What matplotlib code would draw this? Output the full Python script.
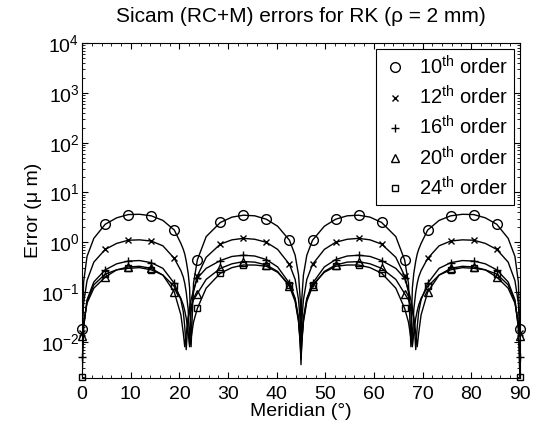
import numpy as np
import matplotlib
matplotlib.use("Agg")
import matplotlib.pyplot as plt
from matplotlib.ticker import MultipleLocator, LogLocator, NullFormatter, FixedLocator

plt.rcParams['font.family'] = ['Liberation Sans', 'DejaVu Sans']
plt.rcParams['mathtext.fontset'] = 'custom'
plt.rcParams['mathtext.rm'] = 'Liberation Sans'
plt.rcParams['mathtext.it'] = 'Liberation Sans'
plt.rcParams['mathtext.bf'] = 'Liberation Sans'
plt.rcParams['axes.unicode_minus'] = False

# meridian grid from 0 to 45 deg (chart is symmetric about 45)
meridian_half = [0, 0.3, 1.0, 2.4, 4.74, 7.1, 9.47, 11.8, 14.21, 16.6, 18.95,
                 20.3, 20.8, 21.1, 21.4, 21.8, 22.1, 22.4, 22.9, 23.68, 25.5,
                 28.42, 30.8, 33.16, 35.5, 37.89, 40.2, 42.63, 43.8, 44.5, 44.85, 45]

# marker meridians
marker_half = [0, 4.74, 9.47, 14.21, 18.95, 23.68, 28.42, 33.16, 37.89, 42.63]

err_10 = [0.018, 0.16, 0.52, 1.2, 2.3, 3.1, 3.6, 3.65, 3.4, 2.75, 1.76,
          0.95, 0.72, 0.58, 0.42, 0.24, 0.12, 0.008, 0.15, 0.44, 1.3,
          2.5, 3.2, 3.5, 3.4, 2.9, 2.1, 1.1, 0.55, 0.22, 0.07, 0.006]
err_12 = [0.015, 0.06, 0.17, 0.4, 0.72, 0.95, 1.1, 1.12, 1.06, 0.85, 0.475,
          0.27, 0.2, 0.15, 0.1, 0.045, 0.009, 0.04, 0.1, 0.21, 0.5,
          0.92, 1.12, 1.2, 1.15, 1.0, 0.72, 0.36, 0.18, 0.07, 0.025, 0.005]
err_16 = [0.005, 0.02, 0.07, 0.16, 0.28, 0.37, 0.42, 0.43, 0.39, 0.3, 0.15,
          0.07, 0.04, 0.02, 0.007, 0.03, 0.05, 0.07, 0.11, 0.19, 0.3,
          0.43, 0.52, 0.55, 0.53, 0.45, 0.32, 0.15, 0.075, 0.03, 0.01, 0.0035]
err_20 = [0.013, 0.025, 0.06, 0.12, 0.2, 0.28, 0.32, 0.33, 0.3, 0.22, 0.1,
          0.035, 0.015, 0.008, 0.015, 0.03, 0.042, 0.052, 0.07, 0.093, 0.18,
          0.3, 0.37, 0.41, 0.4, 0.35, 0.26, 0.13, 0.065, 0.025, 0.009, 0.0045]
err_24 = [0.002, 0.02, 0.065, 0.14, 0.23, 0.28, 0.3, 0.31, 0.28, 0.22, 0.13,
          0.075, 0.055, 0.042, 0.03, 0.015, 0.008, 0.012, 0.025, 0.047, 0.12,
          0.24, 0.31, 0.35, 0.35, 0.33, 0.25, 0.14, 0.07, 0.028, 0.01, 0.005]

labels = ["10$^{th}$ order", "12$^{th}$ order", "16$^{th}$ order",
          "20$^{th}$ order", "24$^{th}$ order"]
markers = ['o', 'x', '+', '^', 's']
msizes = [7, 5, 6, 6, 5]
ytick_vals = [1e-2, 1e-1, 1e0, 1e1, 1e2, 1e3, 1e4]


def mirror(vals):
    v = np.array(vals)
    return np.concatenate([v, v[-2::-1]])


g = np.array(meridian_half)
x_full = np.concatenate([g, 90 - g[-2::-1]])
m = np.array(marker_half)
mx = np.concatenate([m, 90 - m[::-1]])
idx = [int(np.argmin(np.abs(x_full - v))) for v in mx]

fig = plt.figure(figsize=(5.37, 4.26), dpi=100)
ax = fig.add_axes([0.153, 0.113, 0.815, 0.786])

series = [err_10, err_12, err_16, err_20, err_24]
for s, lab, mk, ms in zip(series, labels, markers, msizes):
    y = mirror(s)
    ax.plot(x_full, y, color='black', lw=1.0)
    ax.plot(x_full[idx], y[idx], linestyle='none', marker=mk, ms=ms,
            mfc='none', mec='black', mew=1.0, label=lab, clip_on=False)

ax.set_yscale('log')
ax.set_xlim(0, 90)
ax.set_ylim(1.9e-3, 1e4)
ax.xaxis.set_major_locator(MultipleLocator(10))
ax.xaxis.set_minor_locator(MultipleLocator(2))
ax.yaxis.set_major_locator(FixedLocator(ytick_vals))
ax.yaxis.set_minor_locator(LogLocator(base=10, subs=np.arange(2, 10), numticks=20))
ax.yaxis.set_minor_formatter(NullFormatter())
ax.tick_params(which='both', direction='in', top=True, right=True, labelsize=14)
ax.tick_params(which='major', length=4)
ax.tick_params(which='minor', length=2)
ax.tick_params(axis='x', pad=6)
ax.tick_params(axis='y', pad=2)

ax.set_xlabel("Meridian (°)", fontsize=14, labelpad=0)
ax.set_ylabel("Error (μ m)", fontsize=14, labelpad=-1)
ax.set_title("Sicam (RC+M) errors for RK (ρ = 2 mm)", fontsize=15, pad=15)

leg = ax.legend(loc='upper right', fontsize=14.5, fancybox=False, edgecolor='black',
                handlelength=1.3, handletextpad=0.5, borderpad=0.3,
                labelspacing=0.35, borderaxespad=0.3, framealpha=1)
leg.get_frame().set_linewidth(0.8)

fig.savefig("out.png", dpi=100)
